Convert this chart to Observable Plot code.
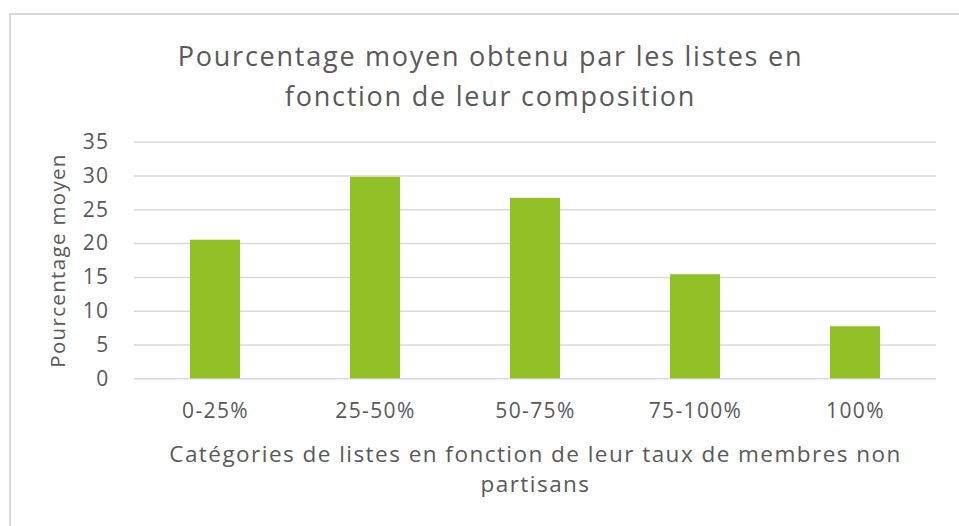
<!DOCTYPE html>
<html>
<head>
<meta charset="utf-8">
<script src="https://cdn.jsdelivr.net/npm/d3@7"></script>
<script src="https://cdn.jsdelivr.net/npm/@observablehq/plot@0.6"></script>
<style>
  html, body { margin: 0; padding: 0; background: #ffffff; }
  #chart { position: relative; width: 959px; height: 526px; overflow: hidden; }
  #frame { position: absolute; left: 9px; top: 13px; width: 980px; height: 560px; border: 2px solid #d9d9d9; box-sizing: border-box; }
  #chart svg { position: absolute; left: 0; top: 0; }
  #chart svg text { letter-spacing: 0.065em; }
  #chart svg g[aria-label="y-axis tick label"],
  #chart svg g[aria-label="x-axis tick label"] { font-size: 21px; }
</style>
</head>
<body>
<div id="chart"><div id="frame"></div></div>
<script>
const categories = ["0-25%", "25-50%", "50-75%", "75-100%", "100%"];
const values = [20.5, 29.8, 26.7, 15.4, 7.7];
const yTicks = [0, 5, 10, 15, 20, 25, 30, 35];
const title = "Pourcentage moyen obtenu par les listes en\nfonction de leur composition";
const yTitle = "Pourcentage moyen";
const xTitle = "Catégories de listes en fonction de leur taux de membres non\npartisans";

const data = categories.map((c, i) => ({category: c, value: values[i]}));
const FONT = "'Open Sans', 'DejaVu Sans', sans-serif";
const GREY = "#595959";

const plot = Plot.plot({
  width: 959,
  height: 526,
  marginLeft: 134,
  marginRight: 23,
  marginTop: 141.7,
  marginBottom: 147.7,
  style: {fontFamily: FONT, background: "transparent", color: GREY},
  x: {domain: categories, paddingInner: 0.688, paddingOuter: 0.344, label: null},
  y: {domain: [0, 35], ticks: yTicks, label: null},
  marks: [
    Plot.gridY(yTicks, {stroke: "#d9d9d9", strokeOpacity: 1, strokeWidth: 1.5}),
    Plot.barY(data, {x: "category", y: "value", fill: "#92c127"}),
    Plot.axisY(yTicks, {tickSize: 0, tickPadding: 25, fontSize: 21, fill: GREY, label: null}),
    Plot.axisX({tickSize: 0, tickPadding: 24, fontSize: 21, fill: GREY, label: null}),
    Plot.text([title], {frameAnchor: "top", lineAnchor: "middle", dx: -45, dy: 73 - 141.7, fontSize: 27, lineHeight: 1.48, fill: GREY, text: d => d}),
    Plot.text([yTitle], {frameAnchor: "left", textAnchor: "middle", lineAnchor: "middle", rotate: -90, dx: -76, fontSize: 20.5, fill: GREY, text: d => d}),
    Plot.text([xTitle], {frameAnchor: "bottom", lineAnchor: "middle", dy: 467 - 378.3, fontSize: 22.5, lineHeight: 1.33, fill: GREY, text: d => d})
  ]
});
document.getElementById("chart").appendChild(plot);
</script>
</body>
</html>
